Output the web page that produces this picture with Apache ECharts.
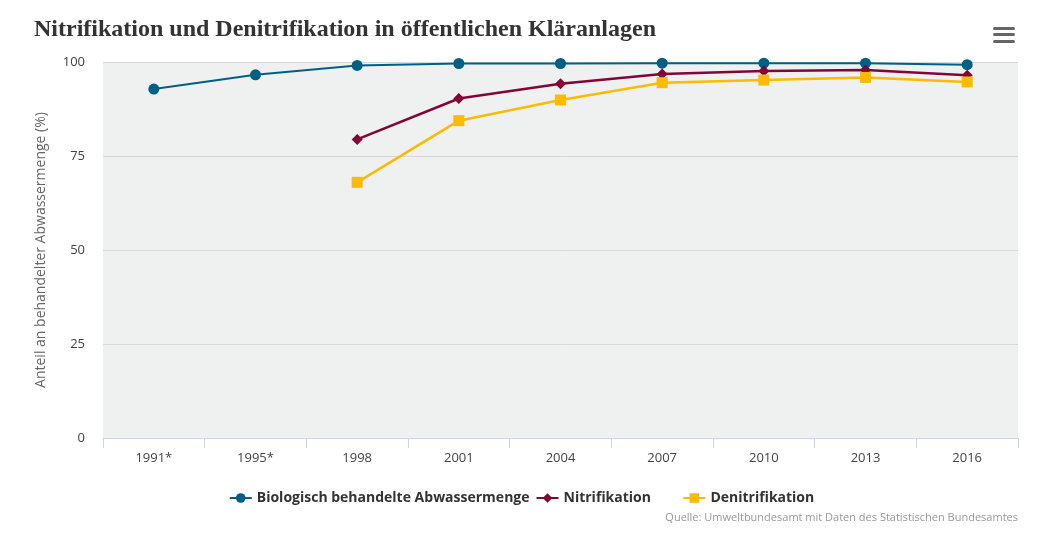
<!DOCTYPE html>
<html>
<head>
<meta charset="utf-8">
<script src="https://cdn.jsdelivr.net/npm/echarts@6/dist/echarts.min.js"></script>
<style>html,body{margin:0;padding:0;background:#fff}#c{width:1043px;height:537px}</style>
</head>
<body>
<div id="c"></div>
<script>
var categories = ['1991*','1995*','1998','2001','2004','2007','2010','2013','2016'];
var biologisch = [92.8, 96.6, 99.1, 99.6, 99.6, 99.7, 99.7, 99.7, 99.3];
var nitrifikation = [null, null, 79.4, 90.3, 94.2, 96.8, 97.6, 97.9, 96.5];
var denitrifikation = [null, null, 68.0, 84.4, 89.9, 94.5, 95.2, 95.9, 94.7];
var yTicks = [0, 25, 50, 75, 100];

var chart = echarts.init(document.getElementById('c'), null, {renderer: 'canvas'});
chart.setOption({
  animation: false,
  backgroundColor: '#ffffff',
  title: {
    text: 'Nitrifikation und Denitrifikation in öffentlichen Kläranlagen',
    left: 29, top: 13,
    textStyle: {fontFamily: 'Liberation Serif', fontWeight: 'bold', fontSize: 24, color: '#333333'}
  },
  graphic: [
    {type: 'rect', left: 993, top: 27, shape: {width: 22, height: 3, r: 1.5}, style: {fill: '#666666'}},
    {type: 'rect', left: 993, top: 33, shape: {width: 22, height: 3, r: 1.5}, style: {fill: '#666666'}},
    {type: 'rect', left: 993, top: 40, shape: {width: 22, height: 3, r: 1.5}, style: {fill: '#666666'}},
    {type: 'text', right: 25, top: 512, style: {text: 'Quelle: Umweltbundesamt mit Daten des Statistischen Bundesamtes', fill: '#999999', fontSize: 11, fontFamily: 'Open Sans'}}
  ],
  legend: {
    left: 'center', top: 486, itemGap: 6, itemWidth: 22, itemHeight: 12,
    textStyle: {fontFamily: 'Open Sans', fontWeight: 'bold', fontSize: 14, color: '#333333'},
    formatter: function (name) { return name === 'Nitrifikation' ? name + '\u00a0\u00a0\u00a0\u00a0\u00a0\u00a0\u00a0' : name; },
    data: ['Biologisch behandelte Abwassermenge', 'Nitrifikation', 'Denitrifikation']
  },
  grid: {left: 103, right: 25, top: 62, bottom: 99, show: true, backgroundColor: '#eff0f0', borderWidth: 0},
  xAxis: {
    type: 'category', data: categories, boundaryGap: true,
    axisLine: {lineStyle: {color: '#ccd6eb', width: 1}},
    axisTick: {show: true, length: 10, lineStyle: {color: '#ccd6eb'}},
    axisLabel: {color: '#444444', fontSize: 13, margin: 14, fontFamily: 'Open Sans'},
    splitLine: {show: false}
  },
  yAxis: {
    type: 'value', min: yTicks[0], max: yTicks[yTicks.length-1], interval: 25,
    name: 'Anteil an behandelter Abwassermenge (%)', nameLocation: 'middle', nameGap: 55,
    nameTextStyle: {color: '#666666', fontSize: 14, fontFamily: 'Open Sans'},
    axisLine: {show: false}, axisTick: {show: false},
    axisLabel: {color: '#444444', fontSize: 13, margin: 18, fontFamily: 'Open Sans'},
    splitLine: {lineStyle: {color: '#d8d8d8', width: 1}}
  },
  series: [
    {name: 'Biologisch behandelte Abwassermenge', type: 'line', data: biologisch,
     symbol: 'circle', symbolSize: 11, color: '#005f85', lineStyle: {width: 2}},
    {name: 'Nitrifikation', type: 'line', data: nitrifikation,
     symbol: 'diamond', symbolSize: 11, color: '#830538', lineStyle: {width: 2.5}},
    {name: 'Denitrifikation', type: 'line', data: denitrifikation,
     symbol: 'rect', symbolSize: 11, color: '#fabb00', lineStyle: {width: 2.5}}
  ]
});
</script>
</body>
</html>
